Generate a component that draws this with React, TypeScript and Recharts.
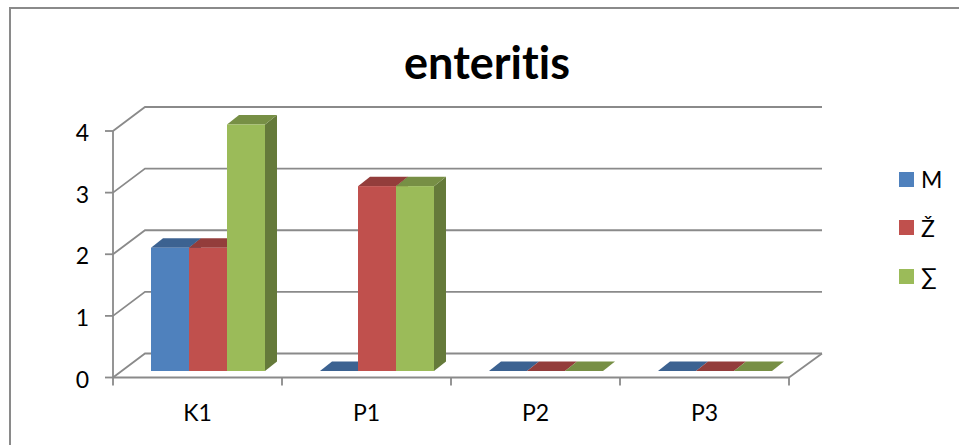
import { Bar, BarChart, CartesianGrid, Legend, XAxis, YAxis } from 'recharts';

const CATEGORIES = ['K1', 'P1', 'P2', 'P3'];
const MALE = [2, 0, 0, 0];
const FEMALE = [2, 3, 0, 0];
const TOTAL = [4, 3, 0, 0];
const Y_TICKS = [0, 1, 2, 3, 4];

const BLUE = '#4F81BD';
const RED = '#C0504D';
const GREEN = '#9BBB59';
const LINE = '#8a8a8a';
const FONT = 'Lato, Carlito, sans-serif';

const TOPS: Record<string, string> = { [BLUE]: '#3C6291', [RED]: '#933D3B', [GREEN]: '#778F45' };
const SIDES: Record<string, string> = { [BLUE]: '#324F74', [RED]: '#772F2D', [GREEN]: '#657A3A' };

const rows = CATEGORIES.map((c, i) => ({ c, m: MALE[i], z: FEMALE[i], s: TOTAL[i] }));

// front face sits a bit back from the axis plane, like the excel 3d columns
function Column3D(props: any) {
  const { x, y, width, height, fill } = props;
  const fx = x + 10;
  const fy = y - 6.5;
  const dx = 12;
  const dy = 9.5;
  return (
    <g>
      <polygon
        points={`${fx + width},${fy} ${fx + width + dx},${fy - dy} ${fx + width + dx},${fy + height - dy} ${fx + width},${fy + height}`}
        fill={SIDES[fill]}
      />
      <polygon
        points={`${fx},${fy} ${fx + dx},${fy - dy} ${fx + width + dx},${fy - dy} ${fx + width},${fy}`}
        fill={TOPS[fill]}
      />
      <rect x={fx} y={fy} width={width} height={height} fill={fill} />
    </g>
  );
}

// wall line: front edge up to the back wall, then across
function WallLine(props: any) {
  const { x1, x2, y1, key } = props;
  const isFloor = y1 > 370;
  return (
    <g key={key}>
      <polyline
        points={`${x1},${y1} ${x1 + 32},${y1 - 24} ${x2 + 33},${y1 - 24}`}
        fill="none"
        stroke={LINE}
        strokeWidth={1.8}
      />
      {isFloor && <line x1={x2} y1={y1} x2={x2 + 33} y2={y1 - 24} stroke={LINE} strokeWidth={1.8} />}
    </g>
  );
}

// tick marks go on the band edges, label stays centred
function CategoryTick(props: any) {
  const { x, y, payload, index } = props;
  const half = payload.offset ?? 84.5;
  const axisY = y - 22;
  return (
    <g>
      <line x1={x - half} y1={axisY} x2={x - half} y2={axisY + 8} stroke={LINE} strokeWidth={1.8} />
      {index === CATEGORIES.length - 1 && (
        <line x1={x + half} y1={axisY} x2={x + half} y2={axisY + 8} stroke={LINE} strokeWidth={1.8} />
      )}
      <text x={x} y={y} dy={21} textAnchor="middle" fontSize={23} fontFamily={FONT} fill="#000">
        {payload.value}
      </text>
    </g>
  );
}

function LegendList({ payload }: any) {
  return (
    <div>
      {(payload ?? []).map((p: any) => (
        <div key={p.value} style={{ display: 'flex', alignItems: 'center', height: 48.5 }}>
          <span style={{ width: 15, height: 15, background: p.color, display: 'block' }} />
          <span style={{ marginLeft: 7, fontSize: 23, color: '#000', fontFamily: FONT }}>{p.value}</span>
        </div>
      ))}
    </div>
  );
}

export default function App() {
  return (
    <div style={{ position: 'absolute', left: 0, top: 0, width: 959, height: 445, overflow: 'hidden', background: '#fff' }}>
      <div
        style={{
          position: 'absolute',
          left: 9,
          top: 7,
          width: 960,
          height: 450,
          borderLeft: `2px solid ${LINE}`,
          borderTop: `2px solid ${LINE}`,
        }}
      />
      <div
        style={{
          position: 'absolute',
          left: 0,
          width: 974,
          top: 38,
          textAlign: 'center',
          fontFamily: FONT,
          fontWeight: 700,
          fontSize: 45,
          lineHeight: '48px',
          color: '#000',
          fontVariantLigatures: 'none',
        }}
      >
        enteritis
      </div>
      <div style={{ position: 'absolute', left: 0, top: 0 }}>
        <BarChart
          width={959}
          height={445}
          data={rows}
          margin={{ top: 131, right: 170, bottom: 27.5, left: 0 }}
          barCategoryGap={28}
          barGap={0}
        >
          <CartesianGrid vertical={false} horizontal={WallLine as any} />
          <XAxis
            dataKey="c"
            height={40}
            tickSize={8}
            tickMargin={14}
            tickLine={false}
            tick={CategoryTick as any}
            interval={0}
            axisLine={{ stroke: LINE, strokeWidth: 1.8 }}
          />
          <YAxis
            width={113}
            domain={[0, 4]}
            ticks={Y_TICKS}
            tickSize={8}
            tickMargin={16}
            tick={{ fontSize: 23, fontFamily: FONT, fill: '#000', dy: 2 }}
            axisLine={{ stroke: LINE, strokeWidth: 1.8 }}
            tickLine={{ stroke: LINE, strokeWidth: 1.8 }}
          />
          <Legend
            layout="vertical"
            align="center"
            verticalAlign="middle"
            content={LegendList as any}
            wrapperStyle={{ left: 899, top: 155, width: 60, height: 146 }}
          />
          <Bar dataKey="m" name="M" fill={BLUE} shape={Column3D} isAnimationActive={false} />
          <Bar dataKey="z" name="Ž" fill={RED} shape={Column3D} isAnimationActive={false} />
          <Bar dataKey="s" name="∑" fill={GREEN} shape={Column3D} isAnimationActive={false} />
        </BarChart>
      </div>
    </div>
  );
}
